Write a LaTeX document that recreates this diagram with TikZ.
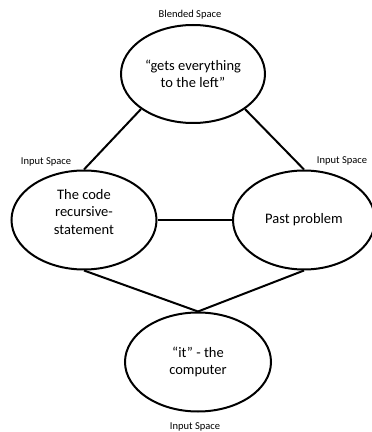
\documentclass[tikz,border=0pt]{standalone}
\usepackage{fontspec}
\setmainfont{Carlito}
\usetikzlibrary{shapes.geometric}
\tikzset{
  space/.style={ellipse, draw=black, line width=2pt, inner sep=0pt,
    minimum width=146pt, minimum height=99pt, align=center,
    font=\fontsize{14.5}{17.5}\selectfont},
  bodytext/.style={align=center, inner sep=0pt, font=\fontsize{14.5}{17.5}\selectfont},
  caption/.style={inner sep=0pt, font=\fontsize{10.5}{12}\selectfont},
  link/.style={draw=black, line width=2pt}
}
\begin{document}
\begin{tikzpicture}[x=1pt,y=1pt]
  \useasboundingbox (0,0) rectangle (372,432);

  % the four spaces
  \node[space, minimum width=144pt, minimum height=98pt] (blend) at (193,358)
    {“gets everything\\to the left”};
  \node[space, minimum width=145pt] (code) at (84,212) {};
  \node[bodytext] (codetxt) at (84,220) {The code\\recursive-\\statement};
  \node[space, minimum width=142pt] (past) at (304,212) {Past problem};
  \node[space] (comp) at (198,70) {“it” - the\\computer};

  % captions
  \node[caption] (lblblend) at (190,417) {Blended Space};
  \node[caption] (lblcode) at (46,270) {Input Space};
  \node[caption] (lblpast) at (342,271) {Input Space};
  \node[caption] (lblcomp) at (195,5) {Input Space};

  % connectors
  \draw[link] (blend.214) -- (code.north);
  \draw[link] (blend.326) -- (past.north);
  \draw[link] (code.east) -- (past.west);
  \draw[link] (code.south) -- (comp.north);
  \draw[link] (past.south) -- (comp.north);
\end{tikzpicture}
\end{document}
